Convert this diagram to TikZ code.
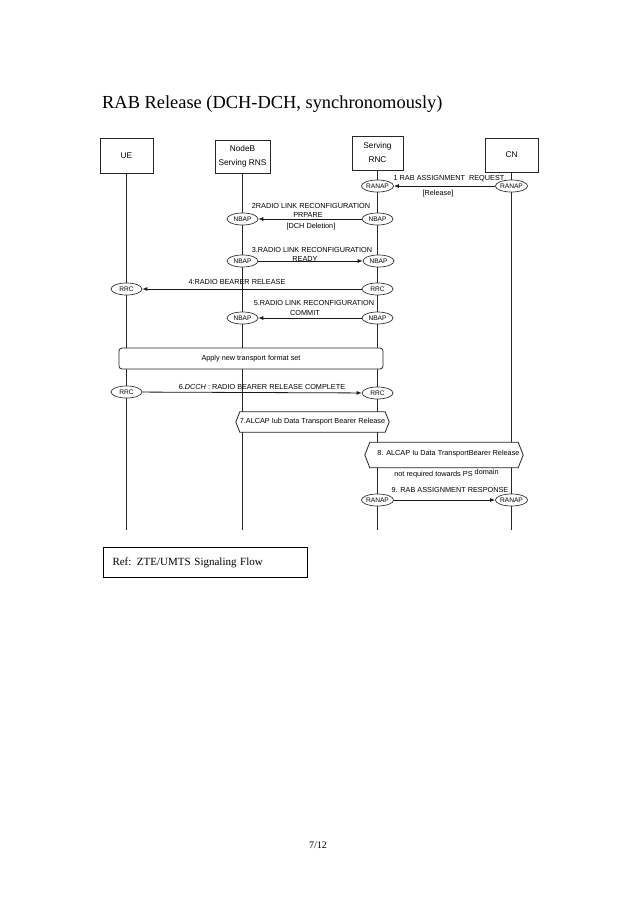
\documentclass[tikz,border=0pt]{standalone}
\usepackage{fontspec}
\setmainfont{Liberation Serif}
\newfontfamily\diag{Liberation Sans}
\usetikzlibrary{arrows.meta,calc,shapes.geometric}
\begin{document}
\begin{tikzpicture}[x=1pt,y=-1pt,
  lane/.style={draw=black!85, line width=0.8pt, inner sep=0pt, align=center,
    font=\diag\fontsize{8.3}{14}\selectfont},
  life/.style={draw=black!85, line width=0.8pt},
  ell/.style={ellipse, draw=black!80, fill=white, line width=0.7pt, minimum width=31pt,
    minimum height=12pt, inner sep=0pt, font=\diag\fontsize{6.6}{7}\selectfont},
  msg/.style={draw=black!90, line width=0.8pt, -{Latex[length=5pt,width=4pt]}},
  lbl/.style={inner sep=0pt, font=\diag\fontsize{7.3}{8}\selectfont},
  outline/.style={draw=black!85, line width=0.8pt, fill=white},
]
\path[use as bounding box, fill=white] (0,0) rectangle (638,903);

% title
\node[anchor=base west, inner sep=0pt, font=\fontsize{18.4}{20}\selectfont] (title) at (102,108) {RAB Release (DCH-DCH, synchronomously)};

% lane heads
\node[lane, minimum width=53pt, minimum height=35pt] (ue) at (126.5,155.5) {UE};
\node[lane, minimum width=55pt, minimum height=33pt] (nb) at (242.5,156.5) {NodeB\\Serving RNS};
\node[lane, minimum width=51pt, minimum height=34pt] (rnc) at (377.5,153) {Serving\\RNC};
\node[lane, minimum width=53pt, minimum height=34pt] (cn) at (511.5,155) {CN};

% lifeline ends
\coordinate (ueend) at (126.5,530);
\coordinate (nbend) at (242.5,530);
\coordinate (rncend) at (377.5,530);
\coordinate (cnend) at (511.5,530);
\draw[life] (ue.south) -- (ueend);
\draw[life] (nb.south) -- (nbend);
\draw[life] (rnc.south) -- (rncend);
\draw[life] (cn.south) -- (cnend);

% 1
\node[ell] (r1) at (377.5,186) {RANAP};
\node[ell] (c1) at (511.5,186) {RANAP};
\draw[msg] (c1) -- (r1);
\node[lbl] (l1) at (449,179) {1 RAB ASSIGNMENT\ \ REQUEST};
\node[lbl] (l1b) at (438,194) {[Release]};

% 2
\node[ell] (n2a) at (242.5,219) {NBAP};
\node[ell] (n2b) at (377.5,219) {NBAP};
\draw[msg] (n2b) -- (n2a);
\node[lbl] (l2) at (311,206) {2RADIO LINK RECONFIGURATION};
\node[lbl] (l2b) at (308,215) {PRPARE};
\node[lbl] (l2c) at (311,227) {[DCH Deletion]};

% 3
\node[ell] (n3a) at (242.5,261) {NBAP};
\node[ell] (n3b) at (378.5,261) {NBAP};
\draw[msg] (n3a) -- (n3b);
\node[lbl] (l3) at (312,250) {3.RADIO LINK RECONFIGURATION};
\node[lbl] (l3b) at (305,259) {READY};

% 4
\node[ell] (u4) at (126.5,289) {RRC};
\node[ell] (r4) at (377.5,289) {RRC};
\draw[msg] (r4) -- (u4);
\node[lbl] (l4) at (237,282) {4:RADIO BEARER RELEASE};

% 5
\node[ell] (n5a) at (242.5,318) {NBAP};
\node[ell] (n5b) at (377.5,318) {NBAP};
\draw[msg] (n5b) -- (n5a);
\node[lbl] (l5) at (314,303) {5.RADIO LINK RECONFIGURATION};
\node[lbl] (l5b) at (305,313) {COMMIT};

% apply box
\node[lbl, draw=black!85, line width=0.8pt, fill=white, rounded corners=3pt,
  minimum width=264pt, minimum height=21pt] (apply) at (251,358.5) {Apply new transport format set};

% 6
\node[ell] (u6) at (126.5,392) {RRC};
\node[ell] (r6) at (377.5,393) {RRC};
\draw[msg] (u6) -- (r6);
\node[lbl] (l6) at (262,387) {6.\textit{DCCH} : RADIO BEARER RELEASE COMPLETE};

% 7
\node[lbl, minimum width=145pt, minimum height=20pt] (m7) at (312.5,422) {};
\draw[outline] ($(m7.west)+(-4,0)$) -- (m7.north west) -- (m7.north east) -- ($(m7.east)+(4,0)$)
  -- (m7.south east) -- (m7.south west) -- cycle;
\node[lbl] (t7) at (m7) {7.ALCAP Iub Data Transport Bearer Release};

% 8
\node[lbl, minimum width=148pt, minimum height=25pt] (m8) at (444,455) {};
\draw[outline] ($(m8.west)+(-5,0)$) -- (m8.north west) -- (m8.north east) -- ($(m8.east)+(5,0)$)
  -- (m8.south east) -- (m8.south west) -- cycle;
\node[lbl] (t8) at (448.5,454) {8. ALCAP Iu Data TransportBearer Release};
\node[lbl] (t8b) at (446.5,474) {not required towards PS \raisebox{2pt}{domain}};

% 9
\node[ell] (r9) at (377.5,500) {RANAP};
\node[ell] (c9) at (511.5,500) {RANAP};
\draw[msg] (r9) -- (c9);
\node[lbl] (l9) at (450,490) {9. RAB ASSIGNMENT RESPONSE};

% reference box
\node[draw=black, line width=1pt, anchor=north west, inner xsep=9pt, inner ysep=0pt,
  text width=186pt, minimum height=30pt, align=left, font=\fontsize{11}{13}\selectfont]
  (ref) at (103,547) {Ref: ZTE/UMTS Signaling Flow};

% page number
\node[inner sep=0pt, font=\fontsize{10}{12}\selectfont] (pg) at (318,845) {7/12};
\end{tikzpicture}
\end{document}
